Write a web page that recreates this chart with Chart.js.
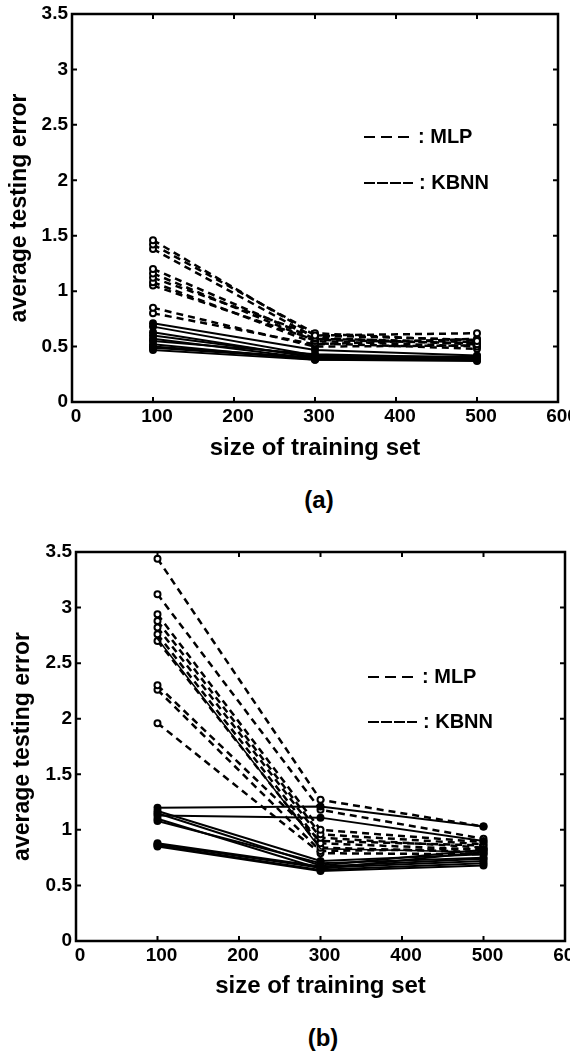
<!DOCTYPE html>
<html><head><meta charset="utf-8">
<script src="https://cdn.jsdelivr.net/npm/chart.js@4.4.1/dist/chart.umd.min.js"></script>
<style>
html,body{margin:0;padding:0;background:#fff;}
body{width:570px;height:1058px;position:relative;overflow:hidden;font-family:"Liberation Sans",Arial,sans-serif;}
canvas{position:absolute;left:0;}
#ca{top:0;} #cb{top:525px;}
.cap{position:absolute;font-weight:bold;font-size:24px;width:100px;text-align:center;line-height:28px;color:#000;}
</style></head><body>
<canvas id="ca" width="570" height="470"></canvas>
<canvas id="cb" width="570" height="485"></canvas>
<div class="cap" style="left:269px;top:486px">(a)</div>
<div class="cap" style="left:273px;top:1024px">(b)</div>
<script>
const sizes = [100, 300, 500];
const xTickValues = [0, 100, 200, 300, 400, 500, 600];
const yTickValues = [0, 0.5, 1, 1.5, 2, 2.5, 3, 3.5];
const xTitle = 'size of training set';
const yTitle = 'average testing error';
const legendLabels = [': MLP', ': KBNN'];

// (a) MLP runs: error at 100, 300, 500 samples
const mlpA = [
  [1.46, 0.60, 0.62],
  [1.42, 0.62, 0.55],
  [1.38, 0.58, 0.52],
  [1.20, 0.57, 0.54],
  [1.16, 0.55, 0.50],
  [1.12, 0.60, 0.56],
  [1.08, 0.53, 0.48],
  [1.05, 0.56, 0.53],
  [0.85, 0.50, 0.51],
  [0.80, 0.52, 0.57]
];
// (a) KBNN runs
const kbnnA = [
  [0.71, 0.47, 0.42],
  [0.68, 0.42, 0.40],
  [0.63, 0.40, 0.39],
  [0.60, 0.41, 0.41],
  [0.57, 0.39, 0.38],
  [0.55, 0.43, 0.40],
  [0.52, 0.38, 0.39],
  [0.50, 0.40, 0.38],
  [0.49, 0.39, 0.40],
  [0.47, 0.38, 0.37]
];
// (b) MLP runs
const mlpB = [
  [3.44, 1.27, 1.03],
  [3.12, 1.18, 0.92],
  [2.94, 1.00, 0.89],
  [2.88, 0.96, 0.87],
  [2.82, 0.93, 0.84],
  [2.76, 0.88, 0.82],
  [2.70, 0.84, 0.80],
  [2.30, 0.90, 0.86],
  [2.26, 0.81, 0.83],
  [1.96, 0.79, 0.78]
];
// (b) thin solid run that follows the MLP group
const extraB = [2.72, 0.83, 0.80];
// (b) KBNN runs
const kbnnB = [
  [1.20, 1.21, 1.03],
  [1.13, 1.11, 0.90],
  [1.17, 0.72, 0.78],
  [1.08, 0.70, 0.75],
  [1.15, 0.68, 0.82],
  [0.87, 0.66, 0.72],
  [0.86, 0.64, 0.70],
  [0.85, 0.63, 0.68],
  [1.10, 0.65, 0.80],
  [0.88, 0.67, 0.74]
];

const FONT = '"Liberation Sans", Arial, sans-serif';
const toPts = r => r.map((v, j) => ({x: sizes[j], y: v}));

function buildDatasets(mlp, kbnn, extra) {
  const ds = [];
  kbnn.forEach((r, i) => ds.push({
    label: 'KBNN ' + (i + 1), data: toPts(r),
    borderColor: '#000', borderWidth: 2,
    pointRadius: 4, pointBackgroundColor: '#000', pointBorderColor: '#000', pointBorderWidth: 0
  }));
  if (extra) ds.push({
    label: 'run', data: toPts(extra),
    borderColor: '#000', borderWidth: 1.5, pointRadius: 0
  });
  mlp.forEach((r, i) => ds.push({
    label: 'MLP ' + (i + 1), data: toPts(r),
    borderColor: '#000', borderWidth: 2.5, borderDash: [7, 5],
    pointRadius: 3, pointBackgroundColor: '#fff', pointBorderColor: '#000', pointBorderWidth: 2
  }));
  return ds;
}

const framePlugin = {
  id: 'frame',
  afterDatasetsDraw(chart, args, opts) {
    const {ctx, chartArea: a, scales: {x, y}} = chart;
    ctx.save();
    ctx.strokeStyle = '#000';
    ctx.setLineDash([]);
    ctx.lineWidth = 2.5;
    ctx.strokeRect(a.left, a.top, a.right - a.left, a.bottom - a.top);
    ctx.lineWidth = 2;
    const tl = 5;
    xTickValues.forEach(v => {
      const px = x.getPixelForValue(v);
      ctx.beginPath();
      ctx.moveTo(px, a.bottom); ctx.lineTo(px, a.bottom - tl);
      ctx.moveTo(px, a.top); ctx.lineTo(px, a.top + tl);
      ctx.stroke();
    });
    yTickValues.forEach(v => {
      const py = y.getPixelForValue(v);
      ctx.beginPath();
      ctx.moveTo(a.left, py); ctx.lineTo(a.left + tl, py);
      ctx.moveTo(a.right, py); ctx.lineTo(a.right - tl, py);
      ctx.stroke();
    });
    // legend
    const L = opts.legend;
    if (L) {
      ctx.lineWidth = 2;
      ctx.setLineDash([11, 6]);
      ctx.beginPath(); ctx.moveTo(L.x, L.y1); ctx.lineTo(L.x + 49, L.y1); ctx.stroke();
      ctx.setLineDash([11, 2]);
      ctx.beginPath(); ctx.moveTo(L.x, L.y2); ctx.lineTo(L.x + 49, L.y2); ctx.stroke();
      ctx.setLineDash([]);
      ctx.fillStyle = '#000';
      ctx.font = 'bold 20px ' + FONT;
      ctx.textBaseline = 'middle';
      ctx.textAlign = 'left';
      ctx.fillText(legendLabels[0], L.x + 54, L.y1);
      ctx.fillText(legendLabels[1], L.x + 55, L.y2);
    }
    ctx.restore();
  }
};

function zeroPad(s) { s.paddingLeft = 0; s.paddingRight = 0; s.paddingTop = 0; s.paddingBottom = 0; }

function makeChart(id, datasets, g) {
  return new Chart(document.getElementById(id), {
    type: 'line',
    data: {datasets},
    plugins: [framePlugin],
    options: {
      responsive: false, animation: false, devicePixelRatio: 1,
      layout: {autoPadding: false, padding: {top: g.top, right: g.right, left: 0, bottom: 0}},
      plugins: {legend: {display: false}, tooltip: {enabled: false}, frame: {legend: g.legend}},
      elements: {line: {tension: 0}},
      scales: {
        x: {
          type: 'linear', min: 0, max: 600,
          afterBuildTicks: s => { s.ticks = xTickValues.map(v => ({value: v})); },
          afterFit: s => { s.height = g.xh; zeroPad(s); },
          grid: {display: false, drawTicks: false}, border: {display: false},
          ticks: {color: '#000', font: {family: FONT, size: 19, weight: 'bold'}, padding: 3, labelOffset: 4, maxRotation: 0, autoSkip: false,
                  callback: v => String(v)},
          title: {display: true, text: xTitle, color: '#000', font: {family: FONT, size: 24, weight: 'bold'}, padding: {top: 0, bottom: g.xtp}}
        },
        y: {
          type: 'linear', min: 0, max: 3.5,
          afterBuildTicks: s => { s.ticks = yTickValues.map(v => ({value: v})); },
          afterFit: s => { s.width = g.yw; zeroPad(s); },
          grid: {display: false, drawTicks: false}, border: {display: false},
          ticks: {color: '#000', font: {family: FONT, size: 19, weight: 'bold'}, padding: 4, autoSkip: false,
                  callback: v => String(v)},
          title: {display: true, text: yTitle, color: '#000', font: {family: FONT, size: 23, weight: 'bold'}, padding: {top: g.ytp, bottom: 0}}
        }
      }
    }
  });
}

makeChart('ca', buildDatasets(mlpA, kbnnA, null),
  {top: 14, right: 12, xh: 68, xtp: 7, yw: 72, ytp: 6, legend: {x: 364, y1: 137, y2: 183}});
makeChart('cb', buildDatasets(mlpB, kbnnB, extraB),
  {top: 27, right: 5, xh: 69, xtp: 9, yw: 76, ytp: 9, legend: {x: 368, y1: 152, y2: 197}});
</script>
</body></html>
